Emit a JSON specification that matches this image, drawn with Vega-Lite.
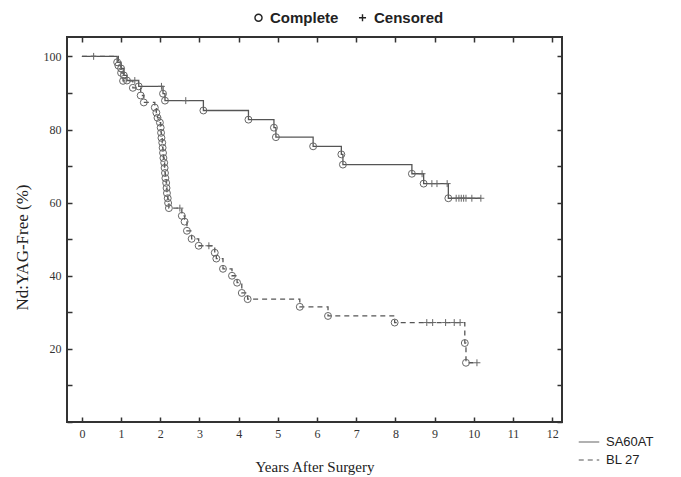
{
  "$schema": "https://vega.github.io/schema/vega-lite/v6.json",
  "width": 495,
  "height": 385,
  "autosize": "none",
  "padding": {"left": 67, "top": 37, "right": 119, "bottom": 55},
  "background": "white",
  "config": {
    "view": {"stroke": "#333333", "strokeWidth": 2},
    "axis": {"grid": false, "domain": false, "tickColor": "#333333", "tickWidth": 1.5, "tickSize": -5, "labelFont": "Liberation Serif", "labelFontSize": 12, "labelColor": "#333333", "titleFont": "Liberation Serif", "titleFontSize": 15, "titleFontWeight": "normal", "titleColor": "#222222"}
  },
  "data": {"values": [
    {"g": "SA60AT", "t": 0, "s": 100, "k": "start"},
    {"g": "SA60AT", "t": 0.3, "s": 100, "k": "Censored"},
    {"g": "SA60AT", "t": 0.9, "s": 98.4, "k": "Complete"},
    {"g": "SA60AT", "t": 1.0, "s": 96.7, "k": "Complete"},
    {"g": "SA60AT", "t": 1.07, "s": 94.8, "k": "Complete"},
    {"g": "SA60AT", "t": 1.15, "s": 93.4, "k": "Complete"},
    {"g": "SA60AT", "t": 1.35, "s": 93.4, "k": "Censored"},
    {"g": "SA60AT", "t": 1.45, "s": 91.8, "k": "Complete"},
    {"g": "SA60AT", "t": 2.03, "s": 91.8, "k": "Censored"},
    {"g": "SA60AT", "t": 2.07, "s": 89.8, "k": "Complete"},
    {"g": "SA60AT", "t": 2.12, "s": 87.9, "k": "Complete"},
    {"g": "SA60AT", "t": 2.65, "s": 87.9, "k": "Censored"},
    {"g": "SA60AT", "t": 3.1, "s": 85.2, "k": "Complete"},
    {"g": "SA60AT", "t": 4.25, "s": 82.7, "k": "Complete"},
    {"g": "SA60AT", "t": 4.9, "s": 80.5, "k": "Complete"},
    {"g": "SA60AT", "t": 4.95, "s": 77.9, "k": "Complete"},
    {"g": "SA60AT", "t": 5.9, "s": 75.4, "k": "Complete"},
    {"g": "SA60AT", "t": 6.62, "s": 73.2, "k": "Complete"},
    {"g": "SA60AT", "t": 6.66, "s": 70.4, "k": "Complete"},
    {"g": "SA60AT", "t": 8.42, "s": 67.9, "k": "Complete"},
    {"g": "SA60AT", "t": 8.68, "s": 67.9, "k": "Censored"},
    {"g": "SA60AT", "t": 8.72, "s": 65.2, "k": "Complete"},
    {"g": "SA60AT", "t": 8.93, "s": 65.2, "k": "Censored"},
    {"g": "SA60AT", "t": 9.06, "s": 65.2, "k": "Censored"},
    {"g": "SA60AT", "t": 9.32, "s": 65.2, "k": "Censored"},
    {"g": "SA60AT", "t": 9.35, "s": 61.2, "k": "Complete"},
    {"g": "SA60AT", "t": 9.55, "s": 61.2, "k": "Censored"},
    {"g": "SA60AT", "t": 9.62, "s": 61.2, "k": "Censored"},
    {"g": "SA60AT", "t": 9.68, "s": 61.2, "k": "Censored"},
    {"g": "SA60AT", "t": 9.74, "s": 61.2, "k": "Censored"},
    {"g": "SA60AT", "t": 9.8, "s": 61.2, "k": "Censored"},
    {"g": "SA60AT", "t": 9.95, "s": 61.2, "k": "Censored"},
    {"g": "SA60AT", "t": 10.18, "s": 61.2, "k": "Censored"},
    {"g": "BL 27", "t": 0, "s": 100, "k": "start"},
    {"g": "BL 27", "t": 0.93, "s": 97.5, "k": "Complete"},
    {"g": "BL 27", "t": 1.0, "s": 95.5, "k": "Complete"},
    {"g": "BL 27", "t": 1.05, "s": 93.3, "k": "Complete"},
    {"g": "BL 27", "t": 1.3, "s": 91.4, "k": "Complete"},
    {"g": "BL 27", "t": 1.5, "s": 89.3, "k": "Complete"},
    {"g": "BL 27", "t": 1.58, "s": 87.4, "k": "Complete"},
    {"g": "BL 27", "t": 1.86, "s": 86.0, "k": "Complete"},
    {"g": "BL 27", "t": 1.9, "s": 84.6, "k": "Complete"},
    {"g": "BL 27", "t": 1.93, "s": 83.2, "k": "Complete"},
    {"g": "BL 27", "t": 1.99, "s": 81.9, "k": "Complete"},
    {"g": "BL 27", "t": 2.01, "s": 80.5, "k": "Complete"},
    {"g": "BL 27", "t": 2.02, "s": 79.1, "k": "Complete"},
    {"g": "BL 27", "t": 2.03, "s": 77.7, "k": "Complete"},
    {"g": "BL 27", "t": 2.05, "s": 76.4, "k": "Complete"},
    {"g": "BL 27", "t": 2.06, "s": 75.0, "k": "Complete"},
    {"g": "BL 27", "t": 2.07, "s": 73.6, "k": "Complete"},
    {"g": "BL 27", "t": 2.08, "s": 72.2, "k": "Complete"},
    {"g": "BL 27", "t": 2.1, "s": 70.9, "k": "Complete"},
    {"g": "BL 27", "t": 2.11, "s": 69.5, "k": "Complete"},
    {"g": "BL 27", "t": 2.12, "s": 68.1, "k": "Complete"},
    {"g": "BL 27", "t": 2.13, "s": 66.7, "k": "Complete"},
    {"g": "BL 27", "t": 2.15, "s": 65.4, "k": "Complete"},
    {"g": "BL 27", "t": 2.16, "s": 64.0, "k": "Complete"},
    {"g": "BL 27", "t": 2.17, "s": 62.6, "k": "Complete"},
    {"g": "BL 27", "t": 2.19, "s": 61.2, "k": "Complete"},
    {"g": "BL 27", "t": 2.2, "s": 59.9, "k": "Complete"},
    {"g": "BL 27", "t": 2.22, "s": 58.5, "k": "Complete"},
    {"g": "BL 27", "t": 2.5, "s": 58.5, "k": "Censored"},
    {"g": "BL 27", "t": 2.55, "s": 56.4, "k": "Complete"},
    {"g": "BL 27", "t": 2.62, "s": 54.8, "k": "Complete"},
    {"g": "BL 27", "t": 2.68, "s": 52.3, "k": "Complete"},
    {"g": "BL 27", "t": 2.8, "s": 50.1, "k": "Complete"},
    {"g": "BL 27", "t": 2.98, "s": 48.2, "k": "Complete"},
    {"g": "BL 27", "t": 3.24, "s": 48.2, "k": "Censored"},
    {"g": "BL 27", "t": 3.39, "s": 46.3, "k": "Complete"},
    {"g": "BL 27", "t": 3.43, "s": 44.7, "k": "Complete"},
    {"g": "BL 27", "t": 3.6, "s": 41.9, "k": "Complete"},
    {"g": "BL 27", "t": 3.83, "s": 40.0, "k": "Complete"},
    {"g": "BL 27", "t": 3.96, "s": 38.1, "k": "Complete"},
    {"g": "BL 27", "t": 4.08, "s": 35.3, "k": "Complete"},
    {"g": "BL 27", "t": 4.23, "s": 33.6, "k": "Complete"},
    {"g": "BL 27", "t": 5.56, "s": 31.5, "k": "Complete"},
    {"g": "BL 27", "t": 6.28, "s": 29.0, "k": "Complete"},
    {"g": "BL 27", "t": 7.98, "s": 27.2, "k": "Complete"},
    {"g": "BL 27", "t": 8.8, "s": 27.2, "k": "Censored"},
    {"g": "BL 27", "t": 8.95, "s": 27.2, "k": "Censored"},
    {"g": "BL 27", "t": 9.28, "s": 27.2, "k": "Censored"},
    {"g": "BL 27", "t": 9.5, "s": 27.2, "k": "Censored"},
    {"g": "BL 27", "t": 9.65, "s": 27.2, "k": "Censored"},
    {"g": "BL 27", "t": 9.77, "s": 21.6, "k": "Complete"},
    {"g": "BL 27", "t": 9.8, "s": 16.2, "k": "Complete"},
    {"g": "BL 27", "t": 10.08, "s": 16.2, "k": "Censored"}
  ]},
  "layer": [
    {
      "mark": {"type": "line", "interpolate": "step-after", "strokeWidth": 1.3, "stroke": "#555555"},
      "encoding": {
        "x": {"field": "t", "type": "quantitative", "scale": {"domain": [-0.38, 12.25], "nice": false, "zero": false},
              "axis": {"orient": "bottom", "values": [0,1,2,3,4,5,6,7,8,9,10,11,12], "title": "Years After Surgery", "labelPadding": 11, "titlePadding": 20}},
        "y": {"field": "s", "type": "quantitative", "scale": {"domain": [0, 105.3], "nice": false, "zero": false},
              "axis": {"orient": "left", "values": [0,10,20,30,40,50,60,70,80,90,100], "labelExpr": "datum.value % 20 === 0 && datum.value > 0 ? datum.label : ''", "title": "Nd:YAG-Free (%)", "titleFontSize": 17, "labelPadding": 11, "titleX": -36, "titleY": 210}},
        "strokeDash": {"field": "g", "type": "nominal", "scale": {"domain": ["SA60AT", "BL 27"], "range": [[1, 0], [5, 4]]},
          "legend": {"orient": "none", "legendX": 511, "legendY": 394, "title": null, "symbolType": "stroke", "symbolSize": 420, "symbolStrokeWidth": 1, "symbolStrokeColor": "#555555", "labelFont": "Liberation Sans", "labelFontSize": 13, "labelColor": "#222222", "rowPadding": -6, "labelOffset": 6}}
      }
    },
    {
      "transform": [{"filter": "datum.k !== 'start'"}],
      "mark": {"type": "point", "filled": false, "stroke": "#666666", "strokeWidth": 1, "size": 48, "opacity": 1},
      "encoding": {
        "x": {"field": "t", "type": "quantitative", "axis": {"orient": "top", "values": [0,1,2,3,4,5,6,7,8,9,10,11,12], "labels": false, "title": null}},
        "y": {"field": "s", "type": "quantitative", "axis": {"orient": "right", "values": [0,10,20,30,40,50,60,70,80,90,100], "labels": false, "title": null}},
        "shape": {"field": "k", "type": "nominal", "scale": {"domain": ["Complete", "Censored"], "range": ["circle", "M-1,0L1,0M0,-1L0,1"]},
          "legend": {"orient": "none", "direction": "horizontal", "legendX": 184, "legendY": -27, "title": null, "symbolStrokeColor": "#222222", "symbolSize": 50, "symbolStrokeWidth": 1.4, "labelFont": "Liberation Sans", "labelFontSize": 15, "labelFontWeight": "bold", "labelColor": "#222222", "columnPadding": 16}}
      }
    }
  ],
  "resolve": {"axis": {"x": "independent", "y": "independent"}}
}
